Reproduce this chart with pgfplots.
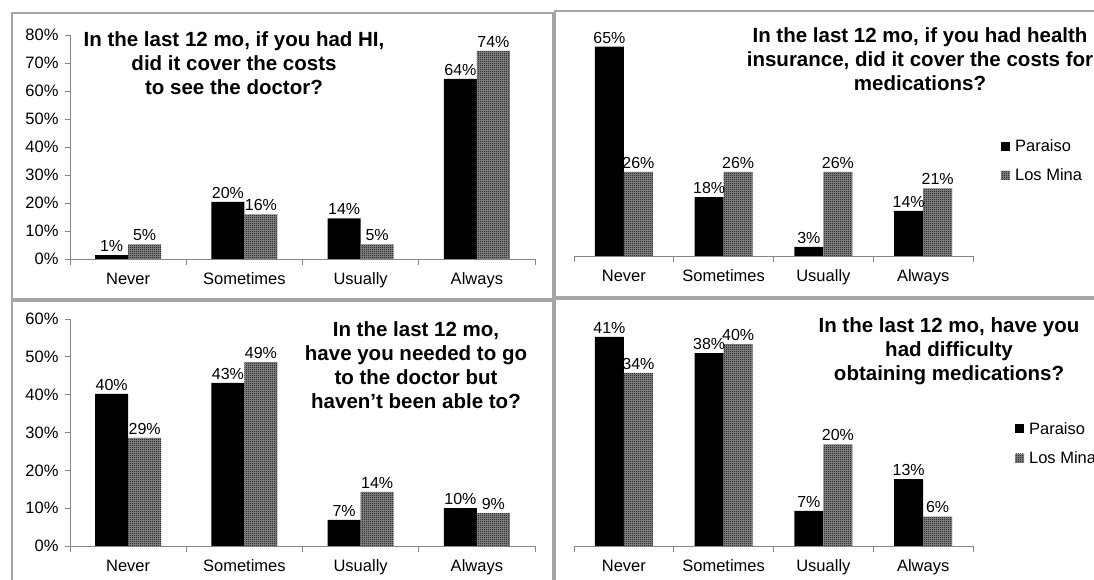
\documentclass[border=0pt]{standalone}
\usepackage{fontspec}
\setmainfont{Liberation Sans}
\usepackage{pgfplots}
\pgfplotsset{compat=1.18}
\usetikzlibrary{patterns}
\pgfdeclarepatternformonly{finecheck}{\pgfpointorigin}{\pgfqpoint{2pt}{2pt}}{\pgfqpoint{2pt}{2pt}}{%
  \pgfpathrectangle{\pgfpointorigin}{\pgfqpoint{1pt}{1pt}}%
  \pgfpathrectangle{\pgfqpoint{1pt}{1pt}}{\pgfqpoint{1pt}{1pt}}%
  \pgfusepath{fill}}
\definecolor{axgray}{RGB}{134,134,134}
\definecolor{bordergray}{RGB}{165,165,165}

\pgfplotsset{
  panel/.style={
    scale only axis, ybar=0pt, clip=false,
    xmin=-0.5, xmax=3.5, ymin=0,
    xtick={0,1,2,3}, xticklabels={Never,Sometimes,Usually,Always},
    major x tick style={draw=none},
    minor xtick={-0.5,0.5,1.5,2.5,3.5},
    minor tick length=6pt,
    major tick length=5pt,
    tick align=outside,
    tick style={axgray, line width=0.8pt},
    axis line style={axgray, line width=0.8pt},
    axis x line*=bottom,
    ticklabel style={font=\fontsize{16.5}{18}\selectfont, text=black},
    xticklabel style={yshift=-5pt, text height=12pt, text depth=3.5pt},
    yticklabel style={xshift=-3pt},
    nodes near coords={\pgfplotspointmeta\%},
    point meta=explicit symbolic,
    every node near coord/.append style={font=\fontsize{16}{18}\selectfont, text=black},
    legend image code/.code={\path[#1] (0pt,-4.5pt) rectangle (9pt,4.5pt); \path (12pt,0pt);},
    legend style={draw=none, fill=none, font=\fontsize{16.5}{18}\selectfont, row sep=12pt, inner sep=0pt, anchor=north west},
    legend cell align=left,
  },
  par/.style={fill=black, draw=none},
  lmn/.style={fill=black!45, draw=none, postaction={pattern=finecheck, pattern color=black}},
}
\tikzset{ttl/.style={font=\bfseries\fontsize{20.5}{24}\selectfont, align=center, inner sep=0pt}}

\begin{document}
\begin{tikzpicture}[x=1pt,y=1pt]
\useasboundingbox (0,0) rectangle (1094,580);
\fill[white] (0,0) rectangle (1094,580);
\draw[bordergray, line width=1.5pt] (12,567) rectangle (553,281);
\draw[bordergray, line width=1.5pt] (555,569) rectangle (1110,283);
\draw[bordergray, line width=1.5pt] (12,279) rectangle (553,-10);
\draw[bordergray, line width=1.5pt] (555,281) rectangle (1110,-10);

% Top-left
\begin{axis}[panel, at={(70pt,321pt)}, anchor=south west, width=465pt, height=224pt,
  bar width=33pt, ymax=80, axis y line*=left,
  ytick={0,10,20,30,40,50,60,70,80},
  yticklabels={0\%,10\%,20\%,30\%,40\%,50\%,60\%,70\%,80\%}]
\addplot[par] coordinates {(0,1.4) [1] (1,20.4) [20] (2,14.5) [14] (3,64.3) [64]};
\addplot[lmn] coordinates {(0,5.2) [5] (1,15.9) [16] (2,5.2) [5] (3,74.3) [74]};
\end{axis}
\node[ttl] at (234,516.5) {In the last 12 mo, if you had HI,\\did it cover the costs\\to see the doctor?};

% Top-right
\begin{axis}[panel, at={(574pt,324pt)}, anchor=south west, width=399pt, height=235pt,
  bar width=29pt, ymax=73, axis y line=none, ytick=\empty,
  legend style={at={(axis description cs:1.07,0.506)}}]
\addplot[par] coordinates {(0,65) [65] (1,18.3) [18] (2,2.8) [3] (3,14) [14]};
\addplot[lmn] coordinates {(0,26.1) [26] (1,26.1) [26] (2,26.1) [26] (3,21) [21]};
\legend{Paraiso,Los Mina}
\end{axis}
\node[ttl] at (920,521) {In the last 12 mo, if you had health\\insurance, did it cover the costs for\\medications?};

% Bottom-left
\begin{axis}[panel, at={(70pt,34pt)}, anchor=south west, width=465pt, height=227pt,
  bar width=33pt, ymax=60, axis y line*=left,
  ytick={0,10,20,30,40,50,60},
  yticklabels={0\%,10\%,20\%,30\%,40\%,50\%,60\%}]
\addplot[par] coordinates {(0,40.2) [40] (1,43.1) [43] (2,6.9) [7] (3,10) [10]};
\addplot[lmn] coordinates {(0,28.6) [29] (1,48.6) [49] (2,14.3) [14] (3,8.7) [9]};
\end{axis}
\node[ttl] at (416,214.5) {In the last 12 mo,\\have you needed to go\\to the doctor but\\haven’t been able to?};

% Bottom-right
\begin{axis}[panel, at={(574pt,34pt)}, anchor=south west, width=399pt, height=236pt,
  bar width=29pt, ymax=46.5, axis y line=none, ytick=\empty,
  legend style={at={(axis description cs:1.105,0.534)}}]
\addplot[par] coordinates {(0,41.2) [41] (1,38) [38] (2,6.9) [7] (3,13.2) [13]};
\addplot[lmn] coordinates {(0,34.1) [34] (1,39.8) [40] (2,20) [20] (3,5.8) [6]};
\legend{Paraiso,Los Mina}
\end{axis}
\node[ttl] at (949,228.5) {In the last 12 mo, have you\\had difficulty\\obtaining medications?};
\end{tikzpicture}
\end{document}
